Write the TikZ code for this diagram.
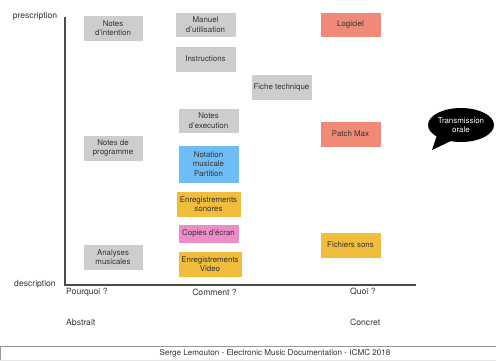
\documentclass[tikz,border=0pt]{standalone}
\usepackage{fontspec}
\setmainfont{TeX Gyre Heros}
\usetikzlibrary{shapes.geometric}
\definecolor{docgray}{HTML}{CDCDCD}
\definecolor{docsalmon}{HTML}{F08A76}
\definecolor{docblue}{HTML}{6FBDF7}
\definecolor{docyellow}{HTML}{F0BE3C}
\definecolor{docpink}{HTML}{EE8CC8}
\definecolor{doctext}{HTML}{333333}
\definecolor{axisgray}{HTML}{4A4A4A}
\tikzset{
  docbox/.style={rectangle, inner sep=1pt, align=center, text=doctext,
    font=\fontsize{7.9}{9.6}\selectfont, draw=white, line width=0.4pt},
  graybox/.style={docbox, fill=docgray},
  salmonbox/.style={docbox, fill=docsalmon},
  bluebox/.style={docbox, fill=docblue},
  yellowbox/.style={docbox, fill=docyellow},
  pinkbox/.style={docbox, fill=docpink},
  axislabel/.style={text=doctext, font=\fontsize{8.6}{10}\selectfont, inner sep=0pt},
  axisline/.style={draw=axisgray, line width=1.1pt},
}
\begin{document}
\begin{tikzpicture}[x=1pt, y=-1pt]
\useasboundingbox (0,0) rectangle (496,361);

% axes
\coordinate (top) at (65,17);
\coordinate (origin) at (65,285);
\coordinate (right) at (416,285);
\draw[axisline] (top) -- (origin) -- (right);

% axis labels
\node[axislabel] (prescription) at (35,16) {prescription};
\node[axislabel] (description) at (35,284) {description};
\node[axislabel, anchor=west] (pourquoi) at (66,292) {Pourquoi ?};
\node[axislabel] (comment) at (214.5,292) {Comment ?};
\node[axislabel, anchor=west] (quoi) at (350,292) {Quoi ?};
\node[axislabel, anchor=west] (abstrait) at (66,322) {Abstrait};
\node[axislabel, anchor=west] (concret) at (350,322) {Concret};

% documents
\node[graybox, minimum width=60pt, minimum height=26pt] (intention) at (113,28) {Notes\\d'intention};
\node[graybox, minimum width=61pt, minimum height=25pt] (manuel) at (205.5,24.5) {Manuel\\d'utilisation};
\node[graybox, minimum width=61pt, minimum height=26pt] (instructions) at (205.5,59) {Instructions};
\node[graybox, minimum width=61pt, minimum height=26pt] (fiche) at (281.5,87) {Fiche technique};
\node[salmonbox, minimum width=61pt, minimum height=25pt] (logiciel) at (350.5,24.5) {Logiciel};
\node[graybox, minimum width=61pt, minimum height=25pt] (execution) at (208.5,120.5) {Notes\\d'execution};
\node[graybox, minimum width=60pt, minimum height=26pt] (programme) at (113,148) {Notes de\\programme};
\node[salmonbox, minimum width=61pt, minimum height=26pt] (patch) at (350.5,134) {Patch Max};
\node[bluebox, minimum width=61pt, minimum height=38pt] (notation) at (208.5,164) {Notation\\musicale\\Partition};
\node[yellowbox, minimum width=65pt, minimum height=26pt] (sonores) at (208.5,204) {Enregistrements\\sonores};
\node[pinkbox, minimum width=61pt, minimum height=19pt] (copies) at (208.5,233.5) {Copies d'écran};
\node[yellowbox, minimum width=64pt, minimum height=26pt] (video) at (210,264) {Enregistrements\\Video};
\node[graybox, minimum width=60pt, minimum height=26pt] (analyses) at (113,257) {Analyses\\musicales};
\node[yellowbox, minimum width=61pt, minimum height=26pt] (fichiers) at (350.5,245) {Fichiers sons};

% speech bubble
\fill[black] (438,132) -- (432,150) -- (453,140) -- cycle;
\node[ellipse, fill=black, minimum width=66pt, minimum height=34pt, inner sep=0pt,
      text=white, align=center, font=\fontsize{7.9}{9.6}\selectfont] (orale) at (461,125) {Transmission\\orale};

% footer
\coordinate (footleft) at (0,346);
\coordinate (footright) at (496,346);
\coordinate (footbottom) at (0,361);
\draw[draw=gray!80, line width=0.9pt] (footbottom) -- (footleft) -- (footright);
\draw[draw=gray!20, line width=0.6pt] (0,360.5) -- (496,360.5);
\node[text=doctext, font=\fontsize{8.1}{9}\selectfont, inner sep=0pt] (footer) at (275,353.5)
  {Serge Lemouton - Electronic Music Documentation - ICMC 2018};
\end{tikzpicture}
\end{document}
